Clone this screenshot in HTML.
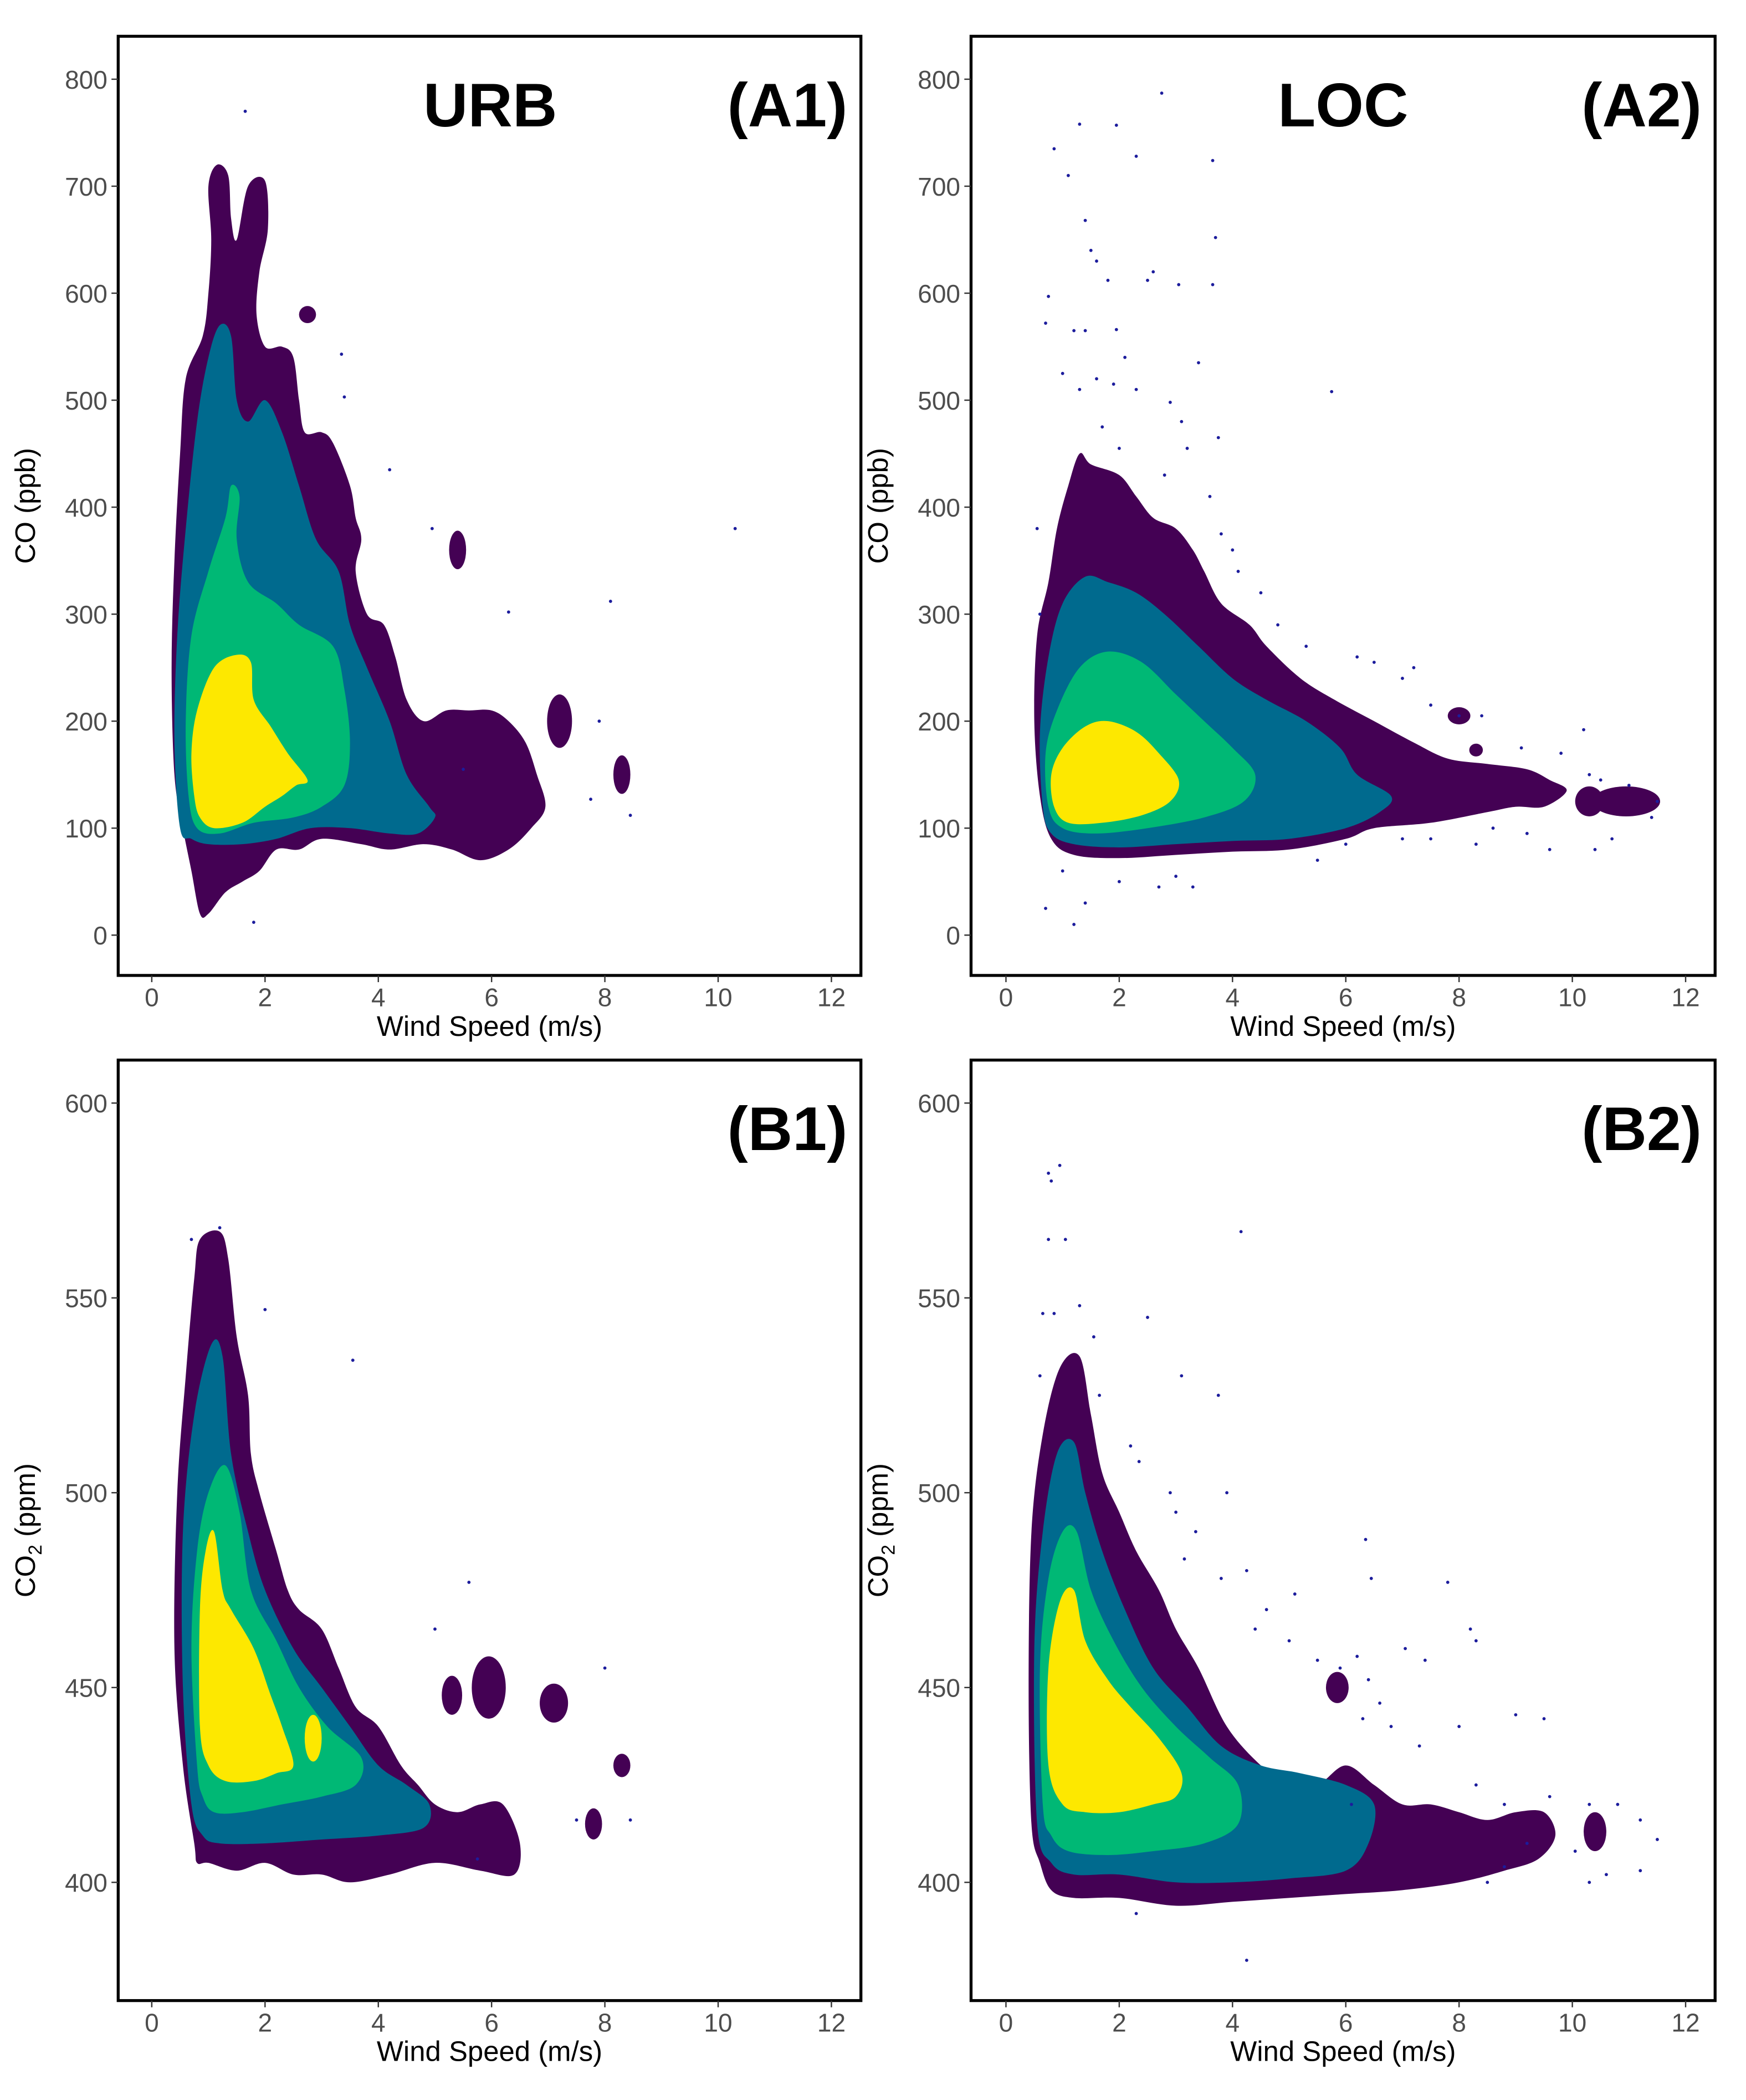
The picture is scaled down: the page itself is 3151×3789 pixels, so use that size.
<!DOCTYPE html>
<html><head><meta charset="utf-8"><style>
html,body{margin:0;padding:0;background:#fff}
svg{display:block}
</style></head><body>
<svg id="fig" width="3151" height="3789" viewBox="0 0 1300 1563" preserveAspectRatio="none" xmlns="http://www.w3.org/2000/svg" font-family="Liberation Sans, sans-serif"></svg>
<script>
// ---- data: contour levels as [windSpeed, value] pairs ----
const a1Purple=[[0.85,20],[0.7,60],[0.55,100],[0.4,150],[0.35,250],[0.4,350],[0.5,450],[0.6,520],[0.9,560],[1.0,600],[1.05,650],[1.0,700],[1.15,720],[1.35,710],[1.4,670],[1.5,650],[1.7,700],[2.0,705],[2.05,660],[1.9,620],[1.85,580],[2.0,550],[2.3,550],[2.5,540],[2.6,500],[2.7,470],[3.0,470],[3.2,460],[3.5,420],[3.6,390],[3.7,370],[3.6,340],[3.8,300],[4.1,290],[4.3,260],[4.5,220],[4.8,200],[5.2,210],[5.6,210],[6.0,210],[6.3,200],[6.6,180],[6.8,150],[6.95,120],[6.7,100],[6.3,80],[5.8,70],[5.3,80],[4.8,85],[4.2,80],[3.7,85],[3.0,90],[2.6,80],[2.2,80],[1.9,60],[1.6,50],[1.3,40],[1.0,20]];
const a1Blue=[[0.5,100],[0.4,180],[0.45,280],[0.6,380],[0.8,480],[1.0,540],[1.2,570],[1.4,560],[1.5,500],[1.7,480],[2.0,500],[2.3,470],[2.6,420],[2.9,370],[3.3,340],[3.5,290],[3.8,250],[4.2,200],[4.5,150],[4.9,120],[5.0,110],[4.7,95],[4.2,95],[3.5,100],[2.8,100],[2.2,90],[1.6,85],[1.0,85],[0.7,90]];
const a1Green=[[0.65,130],[0.6,200],[0.7,280],[1.0,340],[1.3,390],[1.4,420],[1.55,410],[1.5,370],[1.7,330],[2.2,310],[2.6,290],[3.2,270],[3.4,230],[3.5,180],[3.4,140],[3.0,120],[2.5,110],[1.8,105],[1.2,95],[0.8,100]];
const a1Yellow=[[0.75,130],[0.7,170],[0.8,210],[1.1,250],[1.5,262],[1.75,255],[1.8,220],[2.1,195],[2.4,170],[2.75,145],[2.55,140],[2.3,130],[2.0,120],[1.6,105],[1.1,100],[0.85,110]];
const a1Blobs=[[5.4,360,0.15,18],[7.2,200,0.22,25],[8.3,150,0.15,18],[2.75,580,0.15,8]];
const a1Points=[[1.65,770],[3.35,543],[3.4,503],[4.2,435],[4.95,380],[10.3,380],[6.3,302],[8.1,312],[7.9,200],[7.75,127],[8.45,112],[1.8,12],[5.5,155]];

const a2Purple=[[0.6,130],[0.5,200],[0.55,280],[0.75,330],[0.9,380],[1.1,420],[1.3,450],[1.5,440],[2.0,430],[2.3,410],[2.6,390],[3.0,380],[3.3,360],[3.5,340],[3.8,310],[4.3,290],[4.6,270],[5.2,240],[5.8,220],[6.5,200],[7.2,180],[7.8,165],[8.5,160],[9.2,155],[9.6,145],[9.9,135],[9.5,120],[9.0,120],[8.5,115],[7.5,105],[6.5,100],[6.0,90],[5.0,80],[4.0,78],[3.0,75],[2.0,72],[1.2,75],[0.8,90]];
const a2Blue=[[0.65,120],[0.6,190],[0.75,260],[1.0,310],[1.4,335],[1.8,330],[2.3,320],[2.8,300],[3.4,270],[4.0,240],[4.6,220],[5.3,200],[5.9,175],[6.2,150],[6.8,130],[6.6,115],[6.0,100],[5.0,90],[4.0,88],[3.0,85],[2.0,82],[1.2,85],[0.8,95]];
const a2Green=[[0.75,120],[0.7,170],[0.9,210],[1.3,250],[1.8,265],[2.4,255],[3.0,225],[3.5,200],[4.0,175],[4.4,150],[4.2,125],[3.5,110],[2.5,100],[1.6,95],[1.0,100]];
const a2Yellow=[[0.85,120],[0.8,150],[1.0,175],[1.4,195],[1.8,200],[2.3,190],[2.7,170],[3.05,145],[2.9,125],[2.4,112],[1.7,105],[1.1,105]];
const a2Blobs=[[10.3,125,0.25,14],[10.95,125,0.6,14],[8.0,205,0.2,8],[8.3,173,0.12,6]];
const a2Points=[[1.3,758],[0.85,735],[1.1,710],[1.95,757],[2.3,728],[2.75,787],[3.65,724],[1.4,668],[1.5,640],[1.6,630],[1.8,612],[2.5,612],[2.6,620],[3.05,608],[3.65,608],[3.7,652],[0.75,597],[0.7,572],[1.2,565],[1.4,565],[1.95,566],[1.0,525],[1.3,510],[1.6,520],[1.9,515],[2.1,540],[2.3,510],[3.4,535],[5.75,508],[2.9,498],[3.1,480],[1.7,475],[2.0,455],[3.2,455],[3.75,465],[2.8,430],[3.6,410],[3.8,375],[4.0,360],[4.1,340],[4.5,320],[4.8,290],[5.3,270],[6.2,260],[6.5,255],[7.2,250],[7.0,240],[7.5,215],[8.0,205],[8.4,205],[9.1,175],[9.8,170],[10.2,192],[10.3,150],[10.5,145],[11.0,140],[11.5,125],[11.4,110],[10.7,90],[10.4,80],[9.6,80],[9.2,95],[8.6,100],[8.3,85],[7.5,90],[7.0,90],[6.0,85],[5.5,70],[3.3,45],[2.7,45],[3.0,55],[2.0,50],[1.4,30],[1.2,10],[0.7,25],[1.0,60],[0.6,300],[0.55,380]];

const b1Purple=[[0.75,410],[0.55,430],[0.4,460],[0.45,500],[0.6,530],[0.75,555],[0.85,565],[1.2,567],[1.35,560],[1.5,540],[1.7,525],[1.75,510],[1.9,500],[2.2,485],[2.4,475],[2.6,470],[3.0,465],[3.3,455],[3.6,445],[4.0,440],[4.4,430],[4.7,425],[5.0,420],[5.4,418],[5.8,420],[6.2,420],[6.5,410],[6.4,402],[5.8,403],[5.0,405],[4.2,402],[3.5,400],[3.0,402],[2.5,402],[2.0,405],[1.5,403],[1.0,405],[0.8,405]];
const b1Blue=[[0.7,420],[0.55,450],[0.55,490],[0.75,520],[1.05,538],[1.25,535],[1.4,510],[1.7,490],[2.0,475],[2.5,460],[3.0,450],[3.5,440],[4.0,430],[4.5,425],[4.9,420],[4.8,414],[4.0,412],[3.0,411],[2.0,410],[1.2,410],[0.9,412]];
const b1Green=[[0.8,430],[0.7,460],[0.8,485],[1.0,500],[1.3,507],[1.55,495],[1.75,475],[2.2,462],[2.6,450],[3.1,440],[3.7,432],[3.6,425],[3.0,422],[2.3,420],[1.6,418],[1.1,418],[0.9,422]];
const b1Yellow=[[0.85,440],[0.85,470],[0.95,485],[1.1,490],[1.25,475],[1.4,470],[1.8,460],[2.1,448],[2.3,440],[2.5,430],[2.2,428],[1.8,426],[1.3,426],[1.0,430]];
const b1Blobs=[[5.3,448,0.18,5],[5.95,450,0.3,8],[7.1,446,0.25,5],[7.8,415,0.15,4],[8.3,430,0.15,3]];
const b1YellowBlobs=[[2.85,437,0.15,6]];
const b1Points=[[1.2,568],[0.7,565],[2.0,547],[3.55,534],[5.6,477],[5.0,465],[8.0,455],[5.75,406],[8.45,416],[7.5,416]];

const b2Purple=[[0.45,415],[0.4,450],[0.45,490],[0.65,515],[0.95,532],[1.3,535],[1.5,520],[1.7,505],[2.0,495],[2.3,485],[2.7,475],[3.0,465],[3.4,455],[3.9,440],[4.5,430],[5.0,425],[5.5,425],[6.0,430],[6.5,425],[7.0,420],[7.5,420],[8.0,418],[8.5,416],[9.0,418],[9.5,418],[9.7,412],[9.4,406],[8.8,403],[8.0,400],[7.0,398],[6.0,397],[5.0,396],[4.0,395],[3.0,394],[2.0,396],[1.2,396],[0.8,398],[0.6,405]];
const b2Blue=[[0.55,415],[0.5,460],[0.65,490],[0.9,510],[1.2,513],[1.4,500],[1.7,485],[2.1,470],[2.6,455],[3.2,445],[3.8,435],[4.5,430],[5.2,428],[6.0,425],[6.5,420],[6.4,410],[6.0,403],[5.0,401],[4.0,400],[3.0,400],[2.0,402],[1.2,402],[0.8,405]];
const b2Green=[[0.65,420],[0.6,455],[0.75,478],[1.0,490],[1.25,490],[1.5,475],[1.9,462],[2.4,450],[3.0,440],[3.6,432],[4.1,425],[4.1,415],[3.5,410],[2.6,408],[1.8,407],[1.1,408],[0.8,412]];
const b2Yellow=[[0.75,430],[0.75,455],[0.95,472],[1.2,475],[1.4,462],[1.8,452],[2.2,445],[2.7,437],[3.1,428],[3.0,422],[2.6,420],[2.0,418],[1.4,418],[1.0,420]];
const b2Blobs=[[5.85,450,0.2,4],[10.4,413,0.2,5]];
const b2Points=[[0.75,582],[0.8,580],[0.95,584],[0.75,565],[1.05,565],[0.65,546],[0.85,546],[1.3,548],[1.55,540],[2.5,545],[0.6,530],[1.65,525],[4.15,567],[3.1,530],[3.75,525],[2.2,512],[2.35,508],[2.9,500],[3.0,495],[3.9,500],[3.35,490],[3.15,483],[4.25,480],[3.8,478],[4.6,470],[5.1,474],[6.35,488],[6.45,478],[5.0,462],[4.4,465],[5.5,457],[5.9,455],[6.2,458],[6.4,452],[7.05,460],[7.4,457],[7.8,477],[8.2,465],[8.3,462],[6.6,446],[6.3,442],[6.8,440],[7.3,435],[8.0,440],[9.0,443],[9.5,442],[8.3,425],[8.8,420],[9.6,422],[10.3,420],[10.8,420],[11.2,416],[11.5,411],[11.2,403],[10.6,402],[10.3,400],[10.05,408],[9.2,410],[8.8,404],[8.5,400],[4.25,380],[2.3,392],[6.1,420]];

const xTicks=[0,2,4,6,8,10,12];
const aYTicks=[0,100,200,300,400,500,600,700,800];
const bYTicks=[400,450,500,550,600];

const NS="http://www.w3.org/2000/svg";
const svg=document.getElementById('fig');
const COL={p:'#440154',b:'#006a8e',g:'#00b875',y:'#fde800'};
function el(tag,attrs,parent){const e=document.createElementNS(NS,tag);for(const k in attrs)e.setAttribute(k,attrs[k]);(parent||svg).appendChild(e);return e;}
function smoothPath(pts){const n=pts.length;let d=`M${pts[0][0]},${pts[0][1]}`;
 for(let i=0;i<n;i++){const p0=pts[(i-1+n)%n],p1=pts[i],p2=pts[(i+1)%n],p3=pts[(i+2)%n];
  const c1=[p1[0]+(p2[0]-p0[0])/6,p1[1]+(p2[1]-p0[1])/6],c2=[p2[0]-(p3[0]-p1[0])/6,p2[1]-(p3[1]-p1[1])/6];
  d+=`C${c1[0]},${c1[1]} ${c2[0]},${c2[1]} ${p2[0]},${p2[1]}`;}return d+'Z';}

function panel(cfg){
 const g=el('g',{});
 
 
 const X=v=>cfg.x0+v*cfg.xs, Y=v=>cfg.y0-(v-cfg.yb)*cfg.ys;
 const layers=[[cfg.purple,COL.p,'contour-level-1'],[cfg.blue,COL.b,'contour-level-2'],[cfg.green,COL.g,'contour-level-3'],[cfg.yellow,COL.y,'contour-level-4']];
 layers.forEach(([pts,c,n])=>{const p=el('path',{d:smoothPath(pts.map(q=>[X(q[0]),Y(q[1])])),fill:c},g);
  
  });
 cfg.blobs.forEach(b=>{const e=el('ellipse',{cx:X(b[0]),cy:Y(b[1]),rx:b[2]*cfg.xs,ry:b[3]*cfg.ys,fill:COL.p},g);
  
  });
 (cfg.yblobs||[]).forEach(b=>{const e=el('ellipse',{cx:X(b[0]),cy:Y(b[1]),rx:b[2]*cfg.xs,ry:b[3]*cfg.ys,fill:COL.y},g);
  
  });
 cfg.points.forEach(p=>{const c=el('circle',{cx:X(p[0]),cy:Y(p[1]),r:1.2,fill:'#1c1c9c'},g);
  
  });
 const box=el('rect',{x:cfg.L,y:cfg.T,width:cfg.R-cfg.L,height:cfg.B-cfg.T,fill:'none',stroke:'#000','stroke-width':2.2},g);
 
 
 xTicks.forEach(t=>{el('line',{x1:X(t),x2:X(t),y1:cfg.B,y2:cfg.B+5,stroke:'#333','stroke-width':1},g);
  const tx=el('text',{x:X(t),y:cfg.B+23,'text-anchor':'middle','font-size':19,fill:'#4d4d4d'},g);tx.textContent=t;
  
  });
 cfg.yticks.forEach(t=>{el('line',{x1:cfg.L-5,x2:cfg.L,y1:Y(t),y2:Y(t),stroke:'#333','stroke-width':1},g);
  const tx=el('text',{x:cfg.L-8,y:Y(t)+7,'text-anchor':'end','font-size':19,fill:'#4d4d4d'},g);tx.textContent=t;
  
  });
 const xl=el('text',{x:(cfg.L+cfg.R)/2,y:cfg.B+45,'text-anchor':'middle','font-size':21,fill:'#000'},g);xl.textContent='Wind Speed (m/s)';
 
 
 const yl=el('text',{x:0,y:0,transform:`translate(${cfg.L-62},${(cfg.T+cfg.B)/2}) rotate(-90)`,'text-anchor':'middle','font-size':21,fill:'#000'},g);
 
 
 if(cfg.co2){yl.innerHTML='CO<tspan font-size="14" dy="5">2</tspan><tspan dy="-5"> (ppm)</tspan>';}else yl.textContent='CO (ppb)';
 const lab=el('text',{x:cfg.R-10,y:cfg.T+67,'text-anchor':'end','font-size':46,'font-weight':'bold'},g);lab.textContent=cfg.label;
 
 
 if(cfg.site){const s=el('text',{x:cfg.L+277,y:cfg.T+67,'text-anchor':'middle','font-size':46,'font-weight':'bold'},g);s.textContent=cfg.site;
  
  }
}
const A={T:27,B:726,y0:696,yb:0,ys:0.7963,yticks:aYTicks};
const Bc={T:789,B:1489,y0:1401,yb:400,ys:2.9,yticks:bYTicks,co2:true};
panel(Object.assign({name:'panel-a1-urb-co',L:88,R:641,x0:113,xs:42.17,purple:a1Purple,blue:a1Blue,green:a1Green,yellow:a1Yellow,blobs:a1Blobs,points:a1Points,label:'(A1)',site:'URB'},A));
panel(Object.assign({name:'panel-a2-loc-co',L:723,R:1277,x0:749,xs:42.17,purple:a2Purple,blue:a2Blue,green:a2Green,yellow:a2Yellow,blobs:a2Blobs,points:a2Points,label:'(A2)',site:'LOC'},A));
panel(Object.assign({name:'panel-b1-urb-co2',L:88,R:641,x0:113,xs:42.17,purple:b1Purple,blue:b1Blue,green:b1Green,yellow:b1Yellow,blobs:b1Blobs,yblobs:b1YellowBlobs,points:b1Points,label:'(B1)'},Bc));
panel(Object.assign({name:'panel-b2-loc-co2',L:723,R:1277,x0:749,xs:42.17,purple:b2Purple,blue:b2Blue,green:b2Green,yellow:b2Yellow,blobs:b2Blobs,points:b2Points,label:'(B2)'},Bc));
</script>
</body></html>
